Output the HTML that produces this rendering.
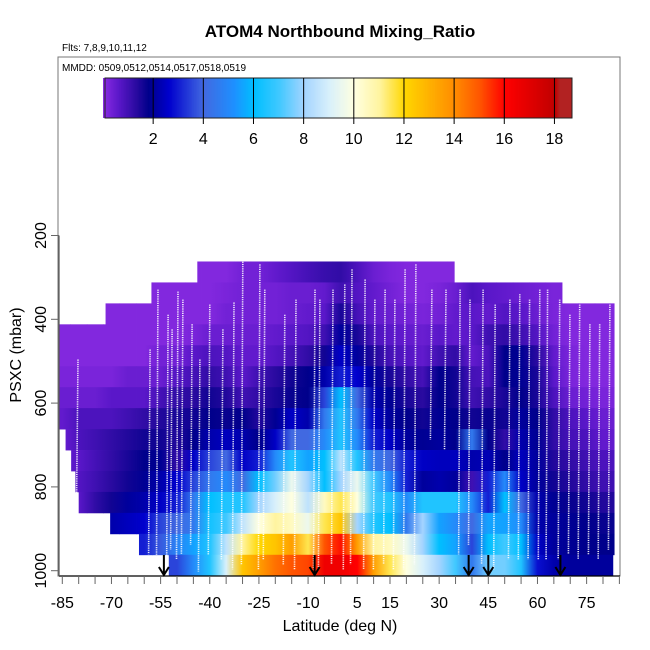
<!DOCTYPE html>
<html><head><meta charset="utf-8"><style>
html,body{margin:0;padding:0;background:#fff;width:650px;height:650px;overflow:hidden}
svg{display:block;font-family:"Liberation Sans",Arial,sans-serif}
</style></head><body>
<svg id="chart" width="650" height="650" viewBox="0 0 650 650" xmlns="http://www.w3.org/2000/svg">
<defs id="defs"></defs>
<rect x="0" y="0" width="650" height="650" fill="#fff"/>
<text x="340" y="37" text-anchor="middle" font-size="17" font-weight="bold">ATOM4 Northbound Mixing_Ratio</text>
<text x="62" y="51" font-size="10">Flts: 7,8,9,10,11,12</text>
<g id="cells"></g>
<g id="profiles"></g>
<g id="arrows"></g>
<rect x="58" y="57" width="562" height="519" fill="none" stroke="#777" stroke-width="1"/>
<text x="62" y="71" font-size="10">MMDD: 0509,0512,0514,0517,0518,0519</text>
<g id="cbar"></g>
<g id="axes"></g>
<text x="340" y="631" text-anchor="middle" font-size="16">Latitude (deg N)</text>
<text transform="translate(21,355) rotate(-90)" text-anchor="middle" font-size="16">PSXC (mbar)</text>
</svg>
<script>
// ---- data ----
const latCenters = [-85,-80,-75,-70,-65,-60,-55,-50,-45,-40,-35,-30,-25,-20,-15,-10,-5,0,5,10,15,20,25,30,35,40,45,50,55,60,65,70,75,80];
const rowPTop = [262,312,362,412,462,512,562,612,662,712,762,812,862,912,962];
const rowLatStart = [-43.8,-57.8,-71.8,-86,-86,-86,-86,-86,-84,-82.3,-81,-80,-70.4,-61.6,-52.7];
const rowLatEnd = [34.6,67.6,83.4,83.4,83.4,83.4,83.4,83.4,83.4,83.4,83.4,83.4,83.4,83.4,83];
const N=null;
const row0 = [N,N,N,N,N,N,N,N,0.1,0.1,0.1,0.3,0.3,0.5,0.7,0.9,1.1,1.2,0.8,0.4,0.2,0.1,0.1,0.1,0.1,N,N,N,N,N,N,N,N,N];
const row1 = [N,N,N,N,N,0.1,0.1,0.1,0.1,0.1,0.2,0.3,0.3,0.3,0.4,0.4,0.5,1.0,0.7,0.5,0.3,0.1,0.1,0.2,0.4,0.8,0.6,0.5,0.4,0.3,0.2,N,N,N];
const row2 = [N,N,N,0.1,0.1,0.1,0.1,0.1,0.1,0.1,0.3,0.3,0.3,0.3,0.4,0.5,0.6,1.5,0.9,0.5,0.4,0.3,0.2,0.3,0.5,0.6,0.5,0.7,0.6,0.4,0.2,0.1,0.1,0.1];
const row3 = [0.1,0.1,0.1,0.1,0.1,0.1,0.1,0.1,0.2,0.4,0.4,0.4,0.4,0.5,0.6,0.7,1.0,2.0,1.5,0.8,0.6,0.5,0.4,0.6,0.5,0.6,1.0,1.2,1.0,0.7,0.3,0.1,0.1,0.1];
const row4 = [0.1,0.1,0.1,0.1,0.1,0.1,0.3,0.3,0.6,0.8,0.7,0.5,0.5,0.7,0.9,1.2,1.6,2.5,2.0,1.4,0.9,0.7,0.5,1.0,1.2,0.5,0.8,1.8,1.9,1.3,0.5,0.2,0.1,0.1];
const row5 = [0.2,0.2,0.2,0.2,0.4,0.4,0.4,0.7,0.9,1.2,1.0,0.6,1.0,1.3,1.6,1.8,2.2,3.0,2.6,2.0,1.5,1.2,0.9,1.8,1.6,0.9,0.8,1.8,1.9,1.5,0.6,0.2,0.1,0.1];
const row6 = [0.4,0.4,0.4,0.6,0.6,0.6,0.9,1.2,1.3,1.6,1.4,1.0,1.2,1.5,1.7,1.8,3.5,6.0,4.0,2.2,1.9,1.5,1.3,1.8,1.6,1.0,1.2,1.5,1.8,1.5,0.8,0.4,0.3,0.2];
const row7 = [0.5,0.8,0.8,0.8,1.0,1.2,1.4,1.5,1.6,1.8,1.7,1.8,1.4,1.9,2.5,2.2,4.5,6.5,4.5,2.5,2.0,1.8,1.6,1.9,1.8,1.6,1.7,1.6,2.0,1.8,1.2,0.8,0.6,0.4];
const row8 = [0.5,0.8,1.0,1.2,1.4,1.6,1.6,1.4,1.8,2.2,2.4,2.2,1.8,2.5,4.0,4.0,5.0,6.5,5.0,3.0,2.5,2.0,1.9,2.0,1.8,4.5,1.8,1.2,2.2,1.9,1.2,0.9,0.8,0.5];
const row9 = [0.6,0.6,0.9,1.2,1.5,1.8,1.9,1.2,2.5,3.5,4.0,2.5,3.0,5.0,6.5,5.5,6.0,8.5,6.5,4.5,4.0,3.0,2.5,2.4,2.4,2.2,2.3,1.8,2.4,2.0,1.4,1.2,1.0,0.8];
const row10 = [0.7,0.7,1.0,1.3,1.6,1.9,2.2,2.6,3.5,4.5,5.0,4.0,6.0,7.5,9.5,8.0,6.0,8.0,9.5,7.0,5.0,3.0,2.0,2.2,2.0,1.0,3.0,5.0,2.5,2.0,1.6,1.4,1.2,1.0];
const row11 = [0.6,0.6,1.2,1.6,2.0,2.2,2.5,3.0,4.5,6.0,6.5,6.5,8.0,9.0,10.0,8.5,10.5,11.5,10.0,7.0,6.5,5.0,6.5,6.5,6.5,5.0,3.0,6.0,4.0,2.2,1.9,1.7,1.6,1.4];
const row12 = [N,N,N,2.2,2.4,2.6,3.5,4.0,4.5,6.3,7.0,8.5,10.0,11.0,10.5,9.5,11.5,12.5,8.0,6.5,6.0,4.5,8.0,5.5,5.0,4.0,5.5,5.5,5.0,2.2,2.0,1.9,1.8,1.7];
const row13 = [N,N,N,N,N,3.0,3.8,4.8,5.5,6.5,8.5,11.0,12.0,12.5,13.5,11.5,15.0,15.8,13.5,11.0,10.5,9.5,8.0,6.0,5.5,3.5,6.0,7.0,6.0,2.5,2.0,1.9,1.8,1.8];
const row14 = [N,N,N,N,N,N,N,3.5,5.0,6.5,9.0,12.5,13.5,14.5,15.0,15.2,16.5,16.5,16.0,13.5,11.5,10.0,9.0,8.0,7.0,4.5,7.5,7.5,6.5,2.8,2.2,2.0,2.0,2.0];
const rows = [row0,row1,row2,row3,row4,row5,row6,row7,row8,row9,row10,row11,row12,row13,row14];
// flight profile segments
const profLat = [-86.3,-80.2,-58.2,-55.8,-52.7,-51.5,-49.7,-48.2,-45.4,-43.0,-40.0,-36.0,-32.6,-29.9,-24.7,-23.2,-17.1,-13.7,-7.9,-6.4,-2.4,1.2,3.4,7.4,10.4,13.5,16.5,19.6,22.9,27.8,32.1,36.4,39.4,43.4,47.1,51.6,54.6,57.6,60.7,63.1,66.8,69.9,72.9,76.0,79.0,82.1];
const profTop = [436,496,472,329,389,424,334,353,412,496,365,424,360,210,269,329,389,353,329,353,329,317,281,305,353,329,353,281,269,329,329,329,353,329,365,353,340,353,329,329,353,389,365,412,412,365];
const profBot = [615,849,961,973,1002,950,973,961,938,1002,961,973,997,985,997,973,985,997,997,997,985,997,985,997,997,985,997,997,985,687,711,961,938,985,997,973,973,973,973,973,973,961,973,961,973,950];
const arrowLat = [-54,-8,39,45,67];
const xTicks = [-85,-80,-75,-70,-65,-60,-55,-50,-45,-40,-35,-30,-25,-20,-15,-10,-5,0,5,10,15,20,25,30,35,40,45,50,55,60,65,70,75,80,85];
const xLabels = [-85,-70,-55,-40,-25,-10,5,15,30,45,60,75];
const yTicks = [200,400,600,800,1000];
const cbTicks = [2,4,6,8,10,12,14,16,18];

// ---- scales ----
const NS='http://www.w3.org/2000/svg';
function xs(lat){return 62.3+(lat+85)*3.277;}
function ys(p){return 235.5+(p-200)*0.419;}
const stops=[[0,'#8a2be2'],[0.6,'#5a17c9'],[1.3,'#2a0aa0'],[1.8,'#00008b'],[2.6,'#0000cd'],[4,'#4169e1'],[5.2,'#1e90ff'],[6,'#00bfff'],[7,'#40c8ff'],[8,'#a4d4ff'],[9,'#d8f0fb'],[10,'#ffffe0'],[11,'#fff4a0'],[12,'#ffd700'],[13,'#ffb000'],[14,'#ff8c00'],[15,'#ff5500'],[16,'#ff0000'],[17,'#e00000'],[18,'#c00000'],[18.2,'#b22222'],[19,'#b22222']];
function hx(h){return [parseInt(h.substr(1,2),16),parseInt(h.substr(3,2),16),parseInt(h.substr(5,2),16)];}
function col(v){
  if(v<=stops[0][0])return stops[0][1];
  for(let i=1;i<stops.length;i++){if(v<=stops[i][0]){const a=stops[i-1],b=stops[i];const t=(v-a[0])/(b[0]-a[0]);const A=hx(a[1]),B=hx(b[1]);return 'rgb('+A.map((c,k)=>Math.round(c+(B[k]-c)*t)).join(',')+')';}}
  return stops[stops.length-1][1];
}
function mk(tag,attrs,parent){const e=document.createElementNS(NS,tag);for(const k in attrs)e.setAttribute(k,attrs[k]);parent.appendChild(e);return e;}

// ---- cells (each row shaded with a horizontal gradient through its cell colours) ----
const defs=document.getElementById('defs');
const gc=document.getElementById('cells');
rows.forEach((r,ri)=>{
  const pT=rowPTop[ri],pB=pT+50;
  const xa=xs(rowLatStart[ri]),xb=xs(rowLatEnd[ri]);
  const gid='rowgrad'+ri;
  const lg=mk('linearGradient',{id:gid,gradientUnits:'userSpaceOnUse',x1:xa,y1:0,x2:xb,y2:0},defs);
  r.forEach((v,ci)=>{
    if(v===null)return;
    const cx=Math.min(Math.max(xs(latCenters[ci]),xa),xb);
    mk('stop',{offset:((cx-xa)/(xb-xa)).toFixed(4),'stop-color':col(v)},lg);
  });
  r.forEach((v,ci)=>{
    if(v===null)return;
    let l0=Math.max(latCenters[ci]-2.5,rowLatStart[ri]);
    let l1=(ci===latCenters.length-1?latCenters[ci]+5:latCenters[ci]+2.5);
    l1=Math.min(l1,rowLatEnd[ri]);
    if(l1<=l0)return;
    const e=mk('rect',{x:xs(l0).toFixed(2),y:ys(pT).toFixed(2),width:(xs(l1)-xs(l0)+0.4).toFixed(2),height:(ys(pB)-ys(pT)+0.4).toFixed(2),fill:'url(#'+gid+')'},gc);
    
    
  });
});
// ---- profiles ----
const gp=document.getElementById('profiles');
profLat.forEach((lat,i)=>{
  const e=mk('line',{x1:xs(lat).toFixed(1),y1:ys(profTop[i]).toFixed(1),x2:(xs(lat)-1.5).toFixed(1),y2:ys(profBot[i]).toFixed(1),stroke:'#fff','stroke-width':1.6,'stroke-dasharray':'1.2 1','stroke-opacity':0.9},gp);
  
  
});
// ---- arrows ----
const ga=document.getElementById('arrows');
arrowLat.forEach(lat=>{
  const x=xs(lat);
  const e=mk('path',{d:`M${x},555 L${x},575 M${x-5},567 L${x},575 L${x+5},567`,stroke:'#000','stroke-width':2,fill:'none'},ga);
  
  
});
// ---- colorbar ----
const gb=document.getElementById('cbar');
const cbx0=103,cbx1=572,cbMax=18.7;
function cbs(v){return cbx0+v*(cbx1-cbx0)/cbMax;}
for(let v=0;v<cbMax;v+=0.05){
  const e=mk('rect',{x:cbs(v).toFixed(2),y:78,width:(cbs(0.05)-cbx0+0.4).toFixed(2),height:40,fill:col(v)},gb);
  
  
}
const cbFrame=mk('rect',{x:105,y:78,width:467,height:40,fill:'none',stroke:'#222','stroke-width':1},gb);


cbTicks.forEach(t=>{
  const x=cbs(t);
  const l=mk('line',{x1:x,y1:78,x2:x,y2:124,stroke:'#000','stroke-width':1},gb);
  
  
  const tx=mk('text',{x:x,y:144,'text-anchor':'middle','font-size':16},gb);
  tx.textContent=t;
  
  
});
// ---- axes ----
const gx=document.getElementById('axes');
const xl=mk('line',{x1:59,y1:576,x2:620,y2:576,stroke:'#000','stroke-width':1.2},gx);


const yl=mk('line',{x1:59,y1:ys(200),x2:59,y2:576,stroke:'#555','stroke-width':1.2},gx);


xTicks.forEach(t=>{
  const e=mk('line',{x1:xs(t),y1:576,x2:xs(t),y2:584,stroke:'#666','stroke-width':1},gx);
  
  
});
xLabels.forEach(t=>{
  const e=mk('text',{x:xs(t),y:608,'text-anchor':'middle','font-size':16},gx);
  e.textContent=t;
  
  
});
yTicks.forEach(t=>{
  const y=ys(t);
  const e=mk('line',{x1:51,y1:y,x2:59,y2:y,stroke:'#666','stroke-width':1},gx);
  
  
  const tx=mk('text',{transform:`translate(46,${y}) rotate(-90)`,'text-anchor':'middle','font-size':16},gx);
  tx.textContent=t;
  
  
});
</script>
</body></html>
